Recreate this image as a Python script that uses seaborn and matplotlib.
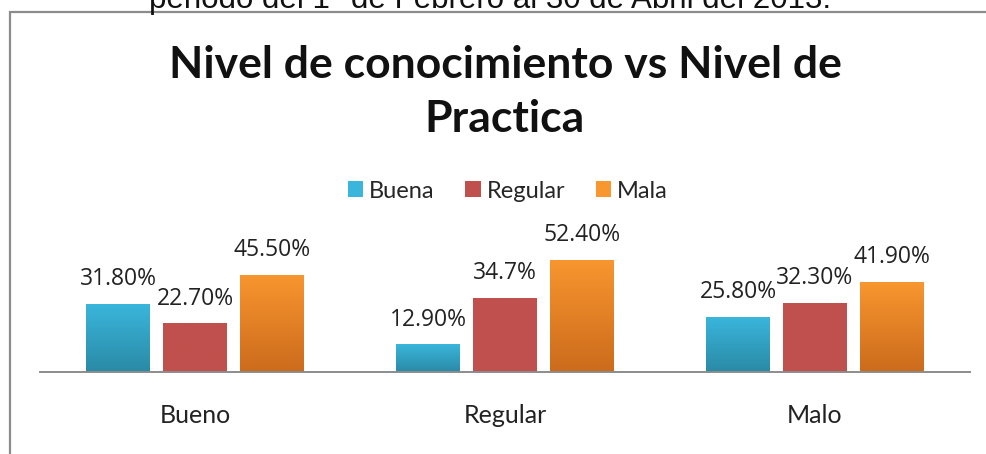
import numpy as np
import pandas as pd
import matplotlib
matplotlib.use("Agg")
import matplotlib.pyplot as plt
import seaborn as sns
from matplotlib.colors import LinearSegmentedColormap
from matplotlib.patches import Rectangle

# Knowledge level categories (x axis) and practice level series
categories = ["Bueno", "Regular", "Malo"]
series = ["Buena", "Regular", "Mala"]
buena = [31.8, 12.9, 25.8]
regular = [22.7, 34.7, 32.3]
mala = [45.5, 52.4, 41.9]
labels_buena = ["31.80%", "12.90%", "25.80%"]
labels_regular = ["22.70%", "34.7%", "32.30%"]
labels_mala = ["45.50%", "52.40%", "41.90%"]

title = "Nivel de conocimiento vs Nivel de\nPractica"
subtitle = "periodo del 1° de Febrero al 30 de Abril del 2013."

base_colors = {"Buena": "#34AFD3", "Regular": "#C0504D", "Mala": "#F28A2A"}
grad_colors = {
    "Buena": ("#3AB6DC", "#2A8AA6"),
    "Regular": ("#C0504D", "#C0504D"),
    "Mala": ("#F8962F", "#CC6B1C"),
}

df = pd.DataFrame({
    "nivel": categories * 3,
    "practica": [s for s in series for _ in categories],
    "valor": buena + regular + mala,
    "etiqueta": labels_buena + labels_regular + labels_mala,
})

sns.set_style("white")
plt.rcParams["font.family"] = ["Lato", "DejaVu Sans"]

fig = plt.figure(figsize=(9.86, 4.54), dpi=100)
ax = fig.add_axes([40 / 986, 82 / 454, 930 / 986, 128 / 454])

sns.barplot(data=df, x="nivel", y="valor", hue="practica", order=categories,
            hue_order=series, palette=base_colors, width=0.745, gap=0.18,
            ax=ax, legend=False, saturation=1)

ax.set_ylim(0, 59.8)
ax.set_xlim(-0.5, 2.5)

# Vertical gradient fill for each bar, with the value label above it
for cont, s, labs in zip(ax.containers, series, [labels_buena, labels_regular, labels_mala]):
    top_c, bot_c = grad_colors[s]
    cmap = LinearSegmentedColormap.from_list(s, [bot_c, top_c])
    for bar, lab in zip(cont, labs):
        x0, y0 = bar.get_x(), bar.get_y()
        w, h = bar.get_width(), bar.get_height()
        grad = np.linspace(0, 1, 100).reshape(-1, 1)
        im = ax.imshow(grad, cmap=cmap, origin="lower", aspect="auto",
                       extent=[x0, x0 + w, y0, y0 + h], zorder=bar.get_zorder() + 0.1)
        im.set_clip_path(bar)
        bar.set_edgecolor("none")
        ax.text(x0 + w / 2, y0 + h + 6.0, lab, ha="center", va="bottom",
                fontsize=16.5, color="#222222", family=["Open Sans", "DejaVu Sans"],
                clip_on=False)

ax.set_xlim(-0.5, 2.5)
ax.set_ylim(0, 59.8)

for side in ["top", "right", "left"]:
    ax.spines[side].set_visible(False)
ax.spines["bottom"].set_color("#8C8C8C")
ax.spines["bottom"].set_linewidth(1.4)
ax.set_yticks([])
ax.set_xlabel("")
ax.set_ylabel("")
ax.tick_params(axis="x", length=0, pad=23, labelsize=18, labelcolor="#222222")

# Legend built from square markers
handles = [Rectangle((0, 0), 1, 1, facecolor=grad_colors[s][0], edgecolor="none") for s in series]
fig.legend(handles, series, loc="center", bbox_to_anchor=(508 / 986, 1 - 191 / 454),
           ncol=3, frameon=False, fontsize=17, handlelength=0.65, handleheight=0.65,
           handletextpad=0.25, columnspacing=1.3)

fig.text(505 / 986, 1 - 92 / 454, title, ha="center", va="center", fontsize=32,
         fontweight="bold", color="#111111", linespacing=1.45)

# Outer chart frame and the caption line above it
fig.patches.append(Rectangle((10 / 986, -0.1), 1.2, 1.1 - 12 / 454, transform=fig.transFigure,
                             fill=False, edgecolor="#8C8C8C", linewidth=1.6))
fig.text(490 / 986, 1 - 8 / 454, subtitle, ha="center", va="baseline", fontsize=22.5,
         family=["Liberation Sans", "DejaVu Sans"], color="#111111")

fig.savefig("out.png", dpi=100, facecolor="white")
